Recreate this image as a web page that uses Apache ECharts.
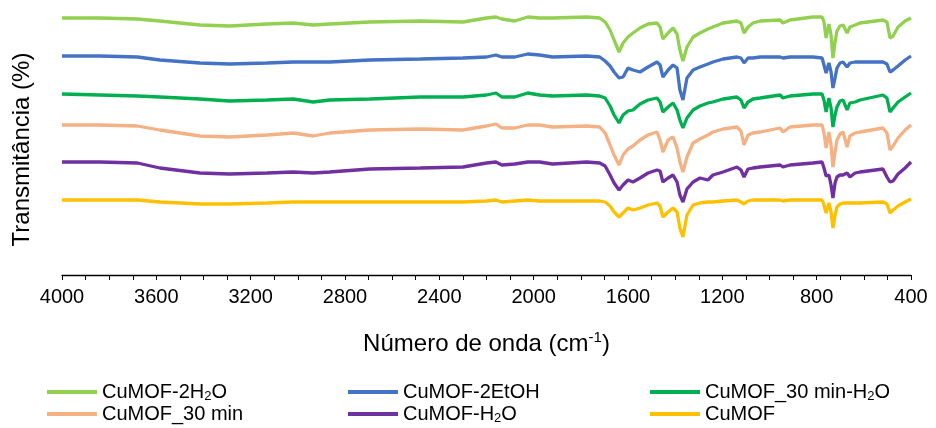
<!DOCTYPE html>
<html>
<head>
<meta charset="utf-8">
<title>FTIR CuMOF</title>
<script src="https://cdn.jsdelivr.net/npm/echarts@6/dist/echarts.min.js"></script>
<style>
    html, body { margin: 0; padding: 0; background: #fff; }
    #main { width: 936px; height: 428px; }
</style>
</head>
<body>
<div id="main"></div>
<script>
    // numero de onda (cm-1), eixo invertido 4000 -> 400
    var wavenumbers = [4000,3840,3680,3585,3415,3290,3130,3020,2935,2865,
        2695,2480,2300,2200,2160,2135,2080,2025,1975,1920,
        1775,1720,1697,1676,1659,1638,1621,1600,1579,1549,
        1515,1477,1464,1452,1430,1409,1392,1380,1367,1350,
        1324,1295,1261,1240,1197,1138,1121,1108,1091,1070,
        1040,955,943,913,816,777,769,760,748,739,
        731,722,714,701,688,671,659,637,616,519,
        502,489,476,455,425,400];

    // transmitancia (unidades arbitrarias, espectros deslocados)
    var cuMof2H2O = [257,257,256,254,250,249,251,252,250,251,
        253,254,253,257,258,256,254,258,257,257,
        258,257,253,245,235,223,232,238,242,247,
        251,252,248,236,242,247,241,225,214,228,
        238,242,246,248,252,254,252,242,248,252,
        254,255,252,255,258,258,253,237,251,240,
        217,233,244,249,250,242,248,250,252,255,
        253,237,239,248,254,257];
    var cuMof2EtOH = [219,219,218,215,212,211,212,213,213,213,
        215,216,217,218,220,218,218,221,220,218,
        219,218,214,209,203,197,198,207,205,203,
        208,213,210,198,205,210,207,185,175,197,
        205,208,211,213,216,218,217,212,217,217,
        218,218,217,218,218,217,210,202,212,203,
        187,197,207,212,213,208,212,213,213,213,
        211,203,205,209,215,219];
    var cuMof30H2O = [181,180,179,178,176,174,175,176,173,175,
        176,178,178,180,182,178,178,182,180,179,
        180,179,177,169,160,152,160,164,165,171,
        175,177,173,163,168,172,165,155,147,157,
        165,169,172,173,176,178,175,167,173,176,
        177,180,177,179,181,181,175,163,177,167,
        148,160,168,174,175,165,172,173,175,180,
        177,163,167,173,178,182];
    var cuMof30 = [150,150,149,145,139,138,140,142,139,142,
        145,146,145,149,151,147,147,150,150,148,
        149,148,142,130,120,110,120,126,129,135,
        140,143,135,123,135,138,127,113,103,118,
        132,136,140,143,146,148,144,130,140,142,
        143,147,143,148,150,150,142,127,143,130,
        108,123,135,141,143,128,139,142,143,147,
        142,125,129,137,145,150];
    var cuMofH2O = [113,113,112,107,102,101,102,103,102,103,
        106,107,108,112,113,110,111,113,113,111,
        113,112,109,100,92,85,90,95,93,97,
        102,105,104,93,97,100,93,80,73,86,
        93,97,95,100,103,108,105,98,106,107,
        108,110,108,110,112,113,107,99,100,90,
        77,92,98,100,100,102,98,102,103,106,
        98,93,94,101,107,113];
    var cuMof = [75,75,75,73,71,71,72,73,73,73,
        73,73,73,74,75,73,74,75,74,74,
        74,74,73,69,63,58,62,67,65,67,
        70,72,69,58,63,67,63,47,38,60,
        70,72,73,73,74,75,73,71,74,75,
        75,75,74,75,75,75,70,62,72,63,
        47,60,68,71,72,72,72,72,72,73,
        71,62,65,69,73,76];

    var names = ['CuMOF-2H2O', 'CuMOF-2EtOH', 'CuMOF_30 min-H2O', 'CuMOF_30 min', 'CuMOF-H2O', 'CuMOF'];
    var colors = ['#92D050', '#4472C4', '#00B050', '#F4B183', '#7030A0', '#FFC000'];
    var values = [cuMof2H2O, cuMof2EtOH, cuMof30H2O, cuMof30, cuMofH2O, cuMof];

    var fontFam = 'Arial, "Liberation Sans", sans-serif';

    function pairs(ys) {
        var out = [];
        for (var i = 0; i < wavenumbers.length; i++) {
            out.push([wavenumbers[i], ys[i]]);
        }
        return out;
    }

    var series = [];
    for (var k = 0; k < names.length; k++) {
        series.push({
            name: names[k],
            type: 'line',
            symbol: 'none',
            showSymbol: false,
            color: colors[k],
            lineStyle: { width: 3.3, color: colors[k] },
            data: pairs(values[k])
        });
    }

    // subscrito do H2O na legenda
    function legendText(name) {
        return name.replace('H2O', 'H{s|2}O');
    }

    function makeLegend(left, items) {
        return {
            orient: 'vertical',
            left: left,
            top: 381,
            icon: 'rect',
            itemWidth: 50,
            itemHeight: 4,
            itemGap: 0,
            padding: 0,
            data: items,
            formatter: legendText,
            textStyle: {
                fontSize: 20,
                fontFamily: fontFam,
                color: '#000',
                lineHeight: 22,
                rich: {
                    s: { fontSize: 13, fontFamily: fontFam, color: '#000', verticalAlign: 'bottom', lineHeight: 10 }
                }
            }
        };
    }

    var myChart = echarts.init(document.getElementById('main'));
    var option = {
        animation: false,
        backgroundColor: '#fff',
        grid: { left: 62, right: 25, top: 0, bottom: 153 },
        legend: [
            makeLegend(47, [names[0], names[3]]),
            makeLegend(348, [names[1], names[4]]),
            makeLegend(650, [names[2], names[5]])
        ],
        xAxis: {
            type: 'value',
            min: 400,
            max: 4000,
            interval: 400,
            inverse: true,
            name: 'Número de onda (cm{sup|-1})',
            nameLocation: 'middle',
            nameGap: 55,
            nameTextStyle: {
                fontSize: 24,
                fontFamily: fontFam,
                color: '#000',
                lineHeight: 28,
                rich: {
                    sup: { fontSize: 15, fontFamily: fontFam, color: '#000', verticalAlign: 'top', lineHeight: 14 }
                }
            },
            axisLine: { show: true, lineStyle: { color: '#000', width: 1.3 } },
            axisTick: { show: true, inside: false, length: 5, lineStyle: { color: '#000' } },
            minorTick: { show: true, splitNumber: 4, length: 5, lineStyle: { color: '#000' } },
            splitLine: { show: false },
            minorSplitLine: { show: false },
            axisLabel: {
                fontSize: 20,
                fontFamily: fontFam,
                color: '#000',
                margin: 12,
                formatter: function (v) { return String(v); }
            }
        },
        yAxis: {
            type: 'value',
            min: 0,
            max: 275,
            name: 'Transmitância (%)',
            nameLocation: 'middle',
            nameGap: 28,
            nameTextStyle: { fontSize: 24, fontFamily: fontFam, color: '#000', padding: [0, 24, 0, 0] },
            axisLine: { show: false },
            axisTick: { show: false },
            axisLabel: { show: false },
            splitLine: { show: false }
        },
        series: series
    };
    myChart.setOption(option);
</script>
</body>
</html>
